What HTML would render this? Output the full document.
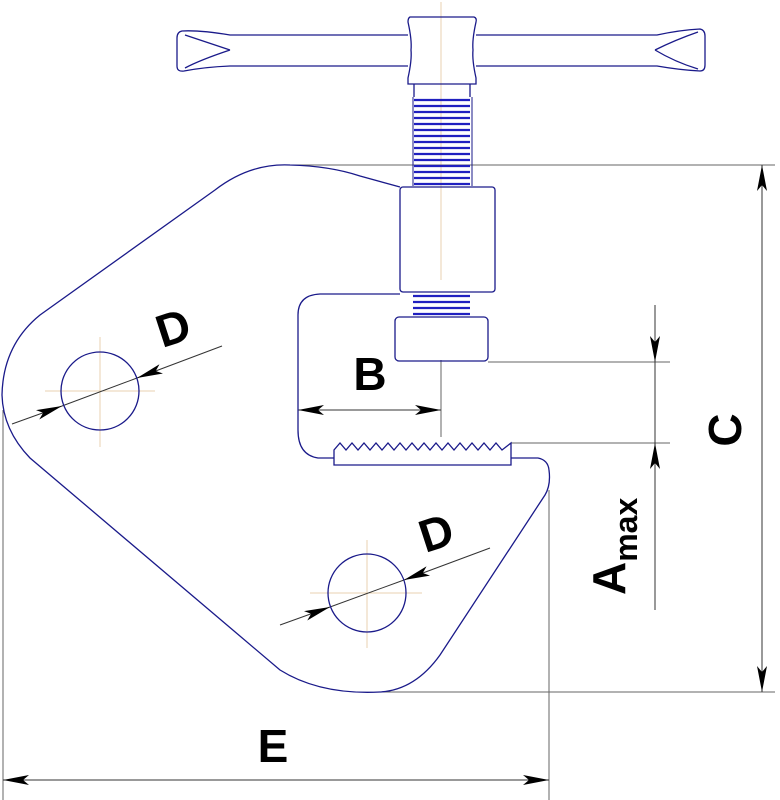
<!DOCTYPE html>
<html><head><style>
body{margin:0;background:#fff}
svg{display:block}
text{font-family:"Liberation Sans",sans-serif;font-weight:bold;fill:#000}
</style></head><body>
<svg width="780" height="800" viewBox="0 0 780 800" xmlns="http://www.w3.org/2000/svg">
<defs>
<marker id="ar" viewBox="0 0 26 10" refX="26" refY="5" markerWidth="26" markerHeight="10" markerUnits="userSpaceOnUse" orient="auto-start-reverse">
<path d="M0,0 L26,5 L0,10 L6,5 Z" fill="#000"/>
</marker>
</defs>
<g stroke="#e8d2b0" stroke-width="1">
<line x1="441" y1="2" x2="441" y2="280"/>
<line x1="45" y1="391" x2="155" y2="391"/><line x1="100" y1="337" x2="100" y2="447"/>
<line x1="310" y1="593" x2="422" y2="593"/><line x1="367" y1="540" x2="367" y2="648"/>
</g>
<g stroke="#666" stroke-width="1" fill="none">
<line x1="290" y1="165" x2="775" y2="165"/>
<line x1="380" y1="692" x2="775" y2="692"/>
<line x1="488" y1="362" x2="670" y2="362"/>
<line x1="511" y1="443" x2="670" y2="443"/>
<line x1="441" y1="360" x2="441" y2="437"/>
<line x1="3" y1="410" x2="3" y2="800"/>
<line x1="549" y1="490" x2="549" y2="800"/>
</g>
<g stroke="#333" stroke-width="1" fill="none">
<line x1="762" y1="165" x2="762" y2="692" marker-start="url(#ar)" marker-end="url(#ar)"/>
<line x1="655" y1="305" x2="655" y2="362" marker-end="url(#ar)"/>
<line x1="655" y1="362" x2="655" y2="443"/>
<line x1="655" y1="610" x2="655" y2="443" marker-end="url(#ar)"/>
<line x1="298" y1="410" x2="441" y2="410" marker-start="url(#ar)" marker-end="url(#ar)"/>
<line x1="3" y1="780" x2="549" y2="780" marker-start="url(#ar)" marker-end="url(#ar)"/>
<line x1="12" y1="424" x2="62" y2="406" marker-end="url(#ar)"/>
<line x1="62" y1="406" x2="137" y2="378"/>
<line x1="222" y1="346" x2="137" y2="378" marker-end="url(#ar)"/>
<line x1="280" y1="625" x2="330" y2="607" marker-end="url(#ar)"/>
<line x1="330" y1="607" x2="404" y2="580"/>
<line x1="490" y1="548" x2="404" y2="580" marker-end="url(#ar)"/>
</g>
<g stroke="#1a1a8a" stroke-width="1.3" fill="none">
<path d="M400,187 L360,176 Q330,166 290,165 Q250,163 215,190 L40,315 Q3,345 2,395 Q3,430 30,458 L280,670 Q320,695 380,692 Q415,690 440,655 L545,495 Q551,485 549,470 Q548,460 538,458 L511,458"/>
<path d="M334,458 L318,458 Q298,455 298,430 L298,315 Q298,295 320,294 L400,294"/>
<circle cx="100" cy="391" r="39"/>
<circle cx="367" cy="593" r="39"/>
<path d="M334,465 L334,450 L340,443 L346,450 L352,443 L358,450 L364,443 L370,450 L376,443 L382,450 L388,443 L394,450 L400,443 L406,450 L412,443 L418,450 L424,443 L430,450 L436,443 L442,450 L448,443 L454,450 L460,443 L466,450 L472,443 L478,450 L484,443 L490,450 L496,443 L502,450 L511,443 L511,465 Z"/>
<path d="M408,35 L230,35 Q200,30 182,31 Q177,32 177,38 L177,66 Q177,72 184,71 Q205,67 230,66 L408,66"/>
<path d="M230,50 Q200,40 185,35 M230,50 Q200,60 185,68"/>
<path d="M476,35 L657,35 Q680,30 700,29 Q705,30 705,36 L705,65 Q705,71 700,71 Q680,70 657,66 L476,66"/>
<path d="M655,50 Q675,40 698,32 M655,50 Q675,62 698,69"/>
<path d="M410,17 L474,17 Q477,18 476,22 Q472,40 473,50 Q472,60 476,78 L476,84 L408,84 L408,78 Q412,60 411,50 Q412,40 408,22 Q408,18 410,17 Z"/>
<path d="M414,84 L414,97 M470,84 L470,97"/>
<rect x="400" y="187" width="95" height="105" rx="3"/>
<rect x="395" y="317" width="93" height="44" rx="4"/>
</g>
<g stroke="#2020c0" stroke-width="2.2" fill="none">
<path d="M414,100h56M414,106h56M414,112h56M414,118h56M414,124h56M414,130h56M414,136h56M414,142h56M414,148h56M414,154h56M414,160h56M414,166h56M414,172h56M414,178h56M414,184h56"/>
<path d="M413,296h57M413,302h57M413,308h57M413,314h57"/>
</g>
<g stroke="#1a1a8a" stroke-width="1" fill="none"><path d="M413,97V186M472,97V186"/></g>
<text x="370" y="390" font-size="46" text-anchor="middle">B</text>
<text x="273" y="762" font-size="46" text-anchor="middle">E</text>
<text transform="translate(178,343) rotate(-18)" font-size="46" text-anchor="middle">D</text>
<text transform="translate(441,548) rotate(-18)" font-size="46" text-anchor="middle">D</text>
<text transform="translate(741,430) rotate(-90)" font-size="46" text-anchor="middle">C</text>
<text transform="translate(625,595) rotate(-90)" font-size="46">A<tspan font-size="32" dy="12">max</tspan></text>
</svg>
</body></html>
